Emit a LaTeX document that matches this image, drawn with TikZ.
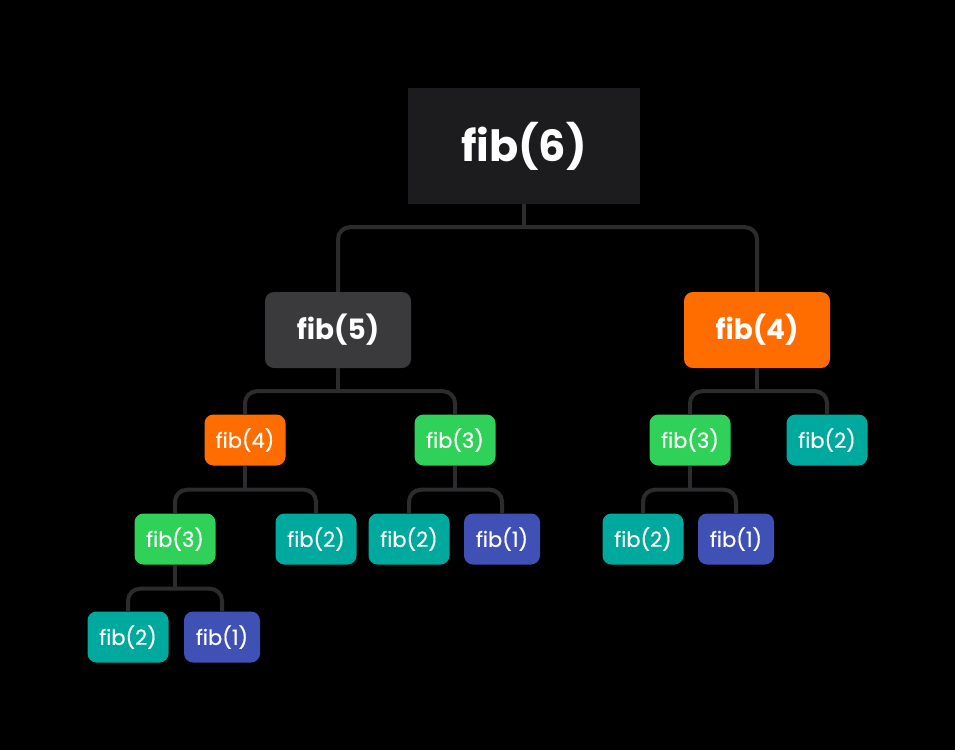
\documentclass[tikz,border=0pt]{standalone}
\usepackage{fontspec}
\setmainfont{Poppins}
\newfontfamily\callfont{Poppins}[FakeBold=0.5]
\usetikzlibrary{calc}

\definecolor{bgblack}{HTML}{000000}
\definecolor{rootgray}{HTML}{1C1C1E}
\definecolor{midgray}{HTML}{3A3A3C}
\definecolor{linkgray}{HTML}{2C2C2E}
\definecolor{fiborange}{HTML}{FF6D00}
\definecolor{fibgreen}{HTML}{30D158}
\definecolor{fibteal}{HTML}{00A99D}
\definecolor{fibblue}{HTML}{3F51B5}

\tikzset{
  call/.style={text=white, inner sep=0pt, minimum width=81pt, minimum height=51pt,
    rounded corners=9pt, font=\callfont\fontsize{21}{21}\selectfont},
  bigcall/.style={call, minimum width=146pt, minimum height=76pt,
    font=\bfseries\fontsize{28}{28}\selectfont},
  rootcall/.style={text=white, fill=rootgray, minimum width=232pt, minimum height=116pt,
    font=\bfseries\fontsize{43}{43}\selectfont},
  link/.style={draw=linkgray, line width=4pt, rounded corners=12pt}
}

\begin{document}
\begin{tikzpicture}[x=1pt,y=-1pt]
\fill[bgblack] (0,0) rectangle (955,750);
\useasboundingbox (0,0) rectangle (955,750);
% level 0 and 1
    \node[rootcall] (f6) at (524,146) {fib(6)};
    \node[bigcall, fill=midgray] (f5) at (338,330) {fib(5)};
    \node[bigcall, fill=fiborange] (f4) at (757,330) {fib(4)};
% level 2
\node[call, fill=fiborange] (f4a) at (245,440) {fib(4)};
\node[call, fill=fibgreen] (f3a) at (455,440) {fib(3)};
\node[call, fill=fibgreen] (f3b) at (690,440) {fib(3)};
\node[call, fill=fibteal] (f2a) at (827,440) {fib(2)};
% level 3
\node[call, fill=fibgreen] (f3c) at (175,539) {fib(3)};
\node[call, fill=fibteal] (f2b) at (316,539) {fib(2)};
\node[call, fill=fibteal] (f2c) at (409,539) {fib(2)};
\node[call, fill=fibblue, minimum width=76pt] (f1a) at (502,539) {fib(1)};
\node[call, fill=fibteal] (f2d) at (643,539) {fib(2)};
\node[call, fill=fibblue, minimum width=76pt] (f1b) at (736,539) {fib(1)};
% level 4
\node[call, fill=fibteal] (f2e) at (128,637) {fib(2)};
\node[call, fill=fibblue, minimum width=76pt] (f1c) at (222,637) {fib(1)};

% branches
\coordinate (bf6) at ($(f6.south)+(0,23)$);
\coordinate (bf5) at ($(f5.south)+(0,23)$);
\coordinate (bf4) at ($(f4.south)+(0,23)$);
\coordinate (bf4a) at ($(f4a.south)+(0,24)$);
\coordinate (bf3a) at ($(f3a.south)+(0,24)$);
\coordinate (bf3b) at ($(f3b.south)+(0,24)$);
\coordinate (bf3c) at ($(f3c.south)+(0,24)$);
\foreach \p in {f6,f5,f4,f4a,f3a,f3b,f3c}
  \draw[link] (\p.south) -- (b\p);
\draw[link] (f5.north) |- (bf6) -| (f4.north);
\draw[link] (f4a.north) |- (bf5) -| (f3a.north);
\draw[link] (f3b.north) |- (bf4) -| (f2a.north);
\draw[link] (f3c.north) |- (bf4a) -| (f2b.north);
\draw[link] (f2c.north) |- (bf3a) -| (f1a.north);
\draw[link] (f2d.north) |- (bf3b) -| (f1b.north);
\draw[link] (f2e.north) |- (bf3c) -| (f1c.north);
  \end{tikzpicture}
\end{document}
